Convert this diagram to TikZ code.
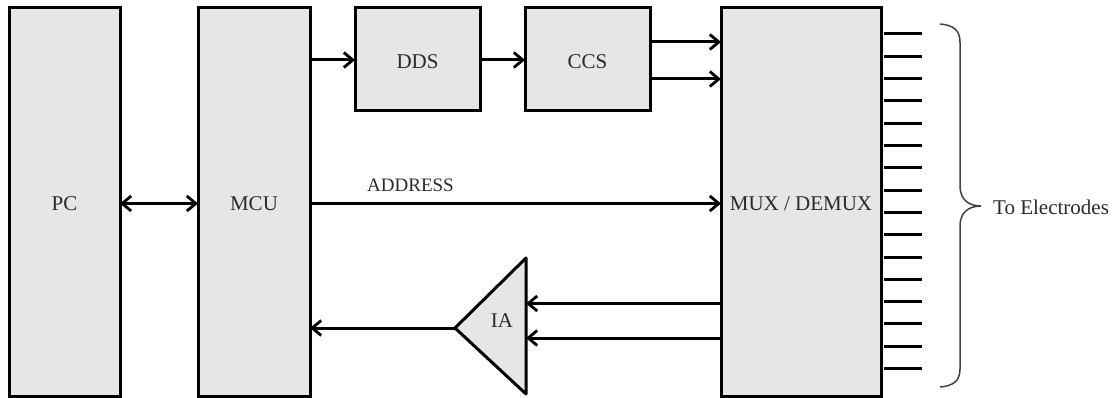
\documentclass[tikz,border=0pt]{standalone}
\usepackage{fontspec}
\setmainfont{Liberation Serif}
\usetikzlibrary{arrows.meta,calc}
\definecolor{boxgray}{HTML}{E6E6E6}
\definecolor{txt}{HTML}{2A2A2A}
\tikzset{
  x=1pt,y=-1pt,
  block/.style={draw=black,fill=boxgray,line width=3pt,rectangle,inner sep=0pt,outer sep=0pt,text=txt,font=\fontsize{21}{23}\selectfont},
  label/.style={inner sep=0pt,text=txt,font=\fontsize{21}{23}\selectfont},
  wire/.style={line width=3pt,draw=black},
  arr/.style={wire,-{Straight Barb[length=9pt,width=15pt,line width=2.8pt]}},
  darr/.style={wire,{Straight Barb[length=9pt,width=15pt,line width=2.8pt]}-{Straight Barb[length=9pt,width=15pt,line width=2.8pt]}},
  pin/.style={line width=3pt,draw=black}
}
\newcommand{\blk}[6]{\node[block,minimum width=#4 pt - #2 pt,minimum height=#5 pt - #3 pt,anchor=north west] (#1) at (#2,#3) {\raisebox{-8.7pt}[0pt][0pt]{#6}};}
\begin{document}
\begin{tikzpicture}
\useasboundingbox (0,0) rectangle (1116,398);
\blk{pc}{9}{8}{120}{396}{PC}
\blk{mcu}{198}{8}{310}{396}{MCU}
\blk{dds}{355}{8}{480}{111}{DDS}
\blk{ccs}{525}{8}{650}{111}{CCS}
\blk{mux}{721}{8}{881}{396}{MUX / DEMUX}
% amplifier
\coordinate (iaT) at (526,258);
\coordinate (iaB) at (526,394);
\coordinate (iaA) at (455,328);
\draw[fill=boxgray,line width=3pt,line join=round] (iaT) -- (iaA) -- (iaB) -- cycle;
\node[label] (ia) at (502,321) {IA};
% levels
\coordinate (yA) at (0,42);
\coordinate (yB) at (0,79);
\coordinate (yC) at (0,60);
\coordinate (yD) at (0,203.5);
\coordinate (yE) at (0,303.5);
\coordinate (yF) at (0,338);
\draw[darr] (pc.east |- yD) -- (mcu.west |- yD);
\draw[arr] (mcu.east |- yC) -- (dds.west |- yC);
\draw[arr] (dds.east |- yC) -- (ccs.west |- yC);
\draw[arr] (ccs.east |- yA) -- (mux.west |- yA);
\draw[arr] (ccs.east |- yB) -- (mux.west |- yB);
\draw[arr] (mcu.east |- yD) -- (mux.west |- yD);
\draw[arr] (mux.west |- yE) -- (iaT |- yE);
\draw[arr] (mux.west |- yF) -- (iaT |- yF);
\draw[arr] (iaA) -- (mcu.east |- iaA);
\node[label,font=\fontsize{19}{21}\selectfont] (addr) at (410.5,185) {ADDRESS};
% pins
\foreach \i in {0,...,15}{
  \coordinate (p\i) at (922,34+22.3*\i);
  \draw[pin] (884,34+22.3*\i) -- (p\i);
}
% brace
\coordinate (brT) at (940,24);
\coordinate (brB) at (940,387);
\coordinate (brM) at (981,206);
\draw[line width=1.5pt,draw=black!75] (brT) .. controls (953,25) and (960,30) .. (960,42)
  -- (960,186) .. controls (960,198) and (967,206) .. (brM)
  .. controls (967,206) and (960,214) .. (960,226)
  -- (960,369) .. controls (960,381) and (953,386) .. (brB);
\node[label,anchor=west] (to) at (993,207) {To Electrodes};
\end{tikzpicture}
\end{document}
